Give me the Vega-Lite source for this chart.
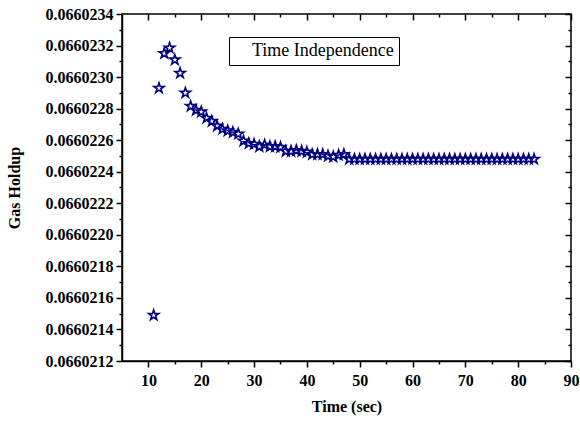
{
  "$schema": "https://vega.github.io/schema/vega-lite/v6.json",
  "autosize": "none",
  "width": 449,
  "height": 347,
  "padding": {"left": 122, "top": 14, "right": 9, "bottom": 60},
  "background": "white",
  "config": {
    "font": "Liberation Serif",
    "view": {"stroke": "black", "strokeWidth": 1.5},
    "axis": {"grid": false}
  },
  "data": {"values": [
    {"t": 11, "g": 0.06602149},
    {"t": 12, "g": 0.06602293},
    {"t": 13, "g": 0.06602315},
    {"t": 14, "g": 0.066023185},
    {"t": 15, "g": 0.06602311},
    {"t": 16, "g": 0.066023025},
    {"t": 17, "g": 0.0660229},
    {"t": 18, "g": 0.066022815},
    {"t": 19, "g": 0.06602279},
    {"t": 20, "g": 0.06602278},
    {"t": 21, "g": 0.06602274},
    {"t": 22, "g": 0.06602272},
    {"t": 23, "g": 0.06602269},
    {"t": 24, "g": 0.06602267},
    {"t": 25, "g": 0.06602266},
    {"t": 26, "g": 0.06602265},
    {"t": 27, "g": 0.06602264},
    {"t": 28, "g": 0.066022595},
    {"t": 29, "g": 0.06602258},
    {"t": 30, "g": 0.066022575},
    {"t": 31, "g": 0.06602256},
    {"t": 32, "g": 0.06602257},
    {"t": 33, "g": 0.06602256},
    {"t": 34, "g": 0.06602256},
    {"t": 35, "g": 0.066022555},
    {"t": 36, "g": 0.06602253},
    {"t": 37, "g": 0.06602253},
    {"t": 38, "g": 0.066022535},
    {"t": 39, "g": 0.06602253},
    {"t": 40, "g": 0.066022525},
    {"t": 41, "g": 0.06602251},
    {"t": 42, "g": 0.06602251},
    {"t": 43, "g": 0.06602251},
    {"t": 44, "g": 0.0660225},
    {"t": 45, "g": 0.066022495},
    {"t": 46, "g": 0.066022505},
    {"t": 47, "g": 0.06602251},
    {"t": 48, "g": 0.06602248},
    {"t": 49, "g": 0.06602248},
    {"t": 50, "g": 0.06602248},
    {"t": 51, "g": 0.06602248},
    {"t": 52, "g": 0.06602248},
    {"t": 53, "g": 0.06602248},
    {"t": 54, "g": 0.06602248},
    {"t": 55, "g": 0.06602248},
    {"t": 56, "g": 0.06602248},
    {"t": 57, "g": 0.06602248},
    {"t": 58, "g": 0.06602248},
    {"t": 59, "g": 0.06602248},
    {"t": 60, "g": 0.06602248},
    {"t": 61, "g": 0.06602248},
    {"t": 62, "g": 0.06602248},
    {"t": 63, "g": 0.06602248},
    {"t": 64, "g": 0.06602248},
    {"t": 65, "g": 0.06602248},
    {"t": 66, "g": 0.06602248},
    {"t": 67, "g": 0.06602248},
    {"t": 68, "g": 0.06602248},
    {"t": 69, "g": 0.06602248},
    {"t": 70, "g": 0.06602248},
    {"t": 71, "g": 0.06602248},
    {"t": 72, "g": 0.06602248},
    {"t": 73, "g": 0.06602248},
    {"t": 74, "g": 0.06602248},
    {"t": 75, "g": 0.06602248},
    {"t": 76, "g": 0.06602248},
    {"t": 77, "g": 0.06602248},
    {"t": 78, "g": 0.06602248},
    {"t": 79, "g": 0.06602248},
    {"t": 80, "g": 0.06602248},
    {"t": 81, "g": 0.06602248},
    {"t": 82, "g": 0.06602248},
    {"t": 83, "g": 0.06602248}
  ]},
  "resolve": {"axis": {"x": "independent", "y": "independent"}},
  "layer": [
    {
      "mark": {"type": "point", "shape": "M0,-1L0.2245,-0.309L0.951,-0.309L0.363,0.118L0.588,0.809L0,0.382L-0.588,0.809L-0.363,0.118L-0.951,-0.309L-0.2245,-0.309Z", "filled": false, "size": 115, "strokeWidth": 1.6, "opacity": 1},
      "encoding": {
        "x": {"field": "t", "type": "quantitative",
          "scale": {"domain": [5, 90], "nice": false, "zero": false},
          "axis": {"orient": "bottom", "title": "Time (sec)",
            "domain": true, "domainColor": "black", "domainWidth": 1.5,
            "ticks": true, "tickSize": 6, "tickColor": "black", "tickWidth": 1.5, "tickOpacity": 1,
            "labelFont": "Liberation Serif", "labelFontWeight": "bold", "labelFontSize": 16, "labelColor": "black",
            "titleFont": "Liberation Serif", "titleFontWeight": "bold", "titleFontSize": 16, "titleColor": "black",
            "values": [10, 20, 30, 40, 50, 60, 70, 80, 90],
            "labelPadding": 5, "titlePadding": 10, "labelFlush": false}},
        "y": {"field": "g", "type": "quantitative",
          "scale": {"domain": [0.0660212, 0.0660234], "nice": false, "zero": false},
          "axis": {"orient": "left", "title": "Gas Holdup", "format": ".7f",
            "domain": true, "domainColor": "black", "domainWidth": 1.5,
            "ticks": true, "tickSize": 6, "tickColor": "black", "tickWidth": 1.5, "tickOpacity": 1,
            "labelFont": "Liberation Serif", "labelFontWeight": "bold", "labelFontSize": 16, "labelColor": "black",
            "titleFont": "Liberation Serif", "titleFontWeight": "bold", "titleFontSize": 16, "titleColor": "black",
            "values": [0.0660212, 0.0660214, 0.0660216, 0.0660218, 0.066022, 0.0660222, 0.0660224, 0.0660226, 0.0660228, 0.066023, 0.0660232, 0.0660234],
            "labelPadding": 3, "titlePadding": 23, "labelFlush": false}},
        "stroke": {"datum": "Time Independence", "type": "nominal",
          "scale": {"range": ["#000080"]},
          "legend": {"orient": "none", "legendX": 107, "legendY": 23, "title": null,
            "strokeColor": "black", "padding": 5, "symbolSize": 1, "symbolOpacity": 0,
            "labelOffset": 0, "labelFont": "Liberation Serif", "labelFontSize": 18,
            "labelColor": "black", "labelFontWeight": "normal"}}
      }
    },
    {
      "mark": {"type": "point", "opacity": 0},
      "encoding": {
        "x": {"field": "t", "type": "quantitative",
          "axis": {"orient": "bottom", "title": null, "labels": false, "domain": false,
            "ticks": true, "tickSize": 3, "tickColor": "black", "tickWidth": 1.5, "tickOpacity": 1,
            "values": [15, 25, 35, 45, 55, 65, 75, 85]}},
        "y": {"field": "g", "type": "quantitative",
          "axis": {"orient": "left", "title": null, "labels": false, "domain": false,
            "ticks": true, "tickSize": 3, "tickColor": "black", "tickWidth": 1.5, "tickOpacity": 1,
            "values": [0.0660213, 0.0660215, 0.0660217, 0.0660219, 0.0660221, 0.0660223, 0.0660225, 0.0660227, 0.0660229, 0.0660231, 0.0660233]}}
      }
    },
    {
      "mark": {"type": "point", "opacity": 0},
      "encoding": {
        "x": {"field": "t", "type": "quantitative",
          "axis": {"orient": "top", "title": null, "labels": false, "domain": false, "offset": -6,
            "ticks": true, "tickSize": 6, "tickColor": "black", "tickWidth": 1.5, "tickOpacity": 1,
            "values": [10, 20, 30, 40, 50, 60, 70, 80, 90]}},
        "y": {"field": "g", "type": "quantitative",
          "axis": {"orient": "right", "title": null, "labels": false, "domain": false, "offset": -6,
            "ticks": true, "tickSize": 6, "tickColor": "black", "tickWidth": 1.5, "tickOpacity": 1,
            "values": [0.0660212, 0.0660214, 0.0660216, 0.0660218, 0.066022, 0.0660222, 0.0660224, 0.0660226, 0.0660228, 0.066023, 0.0660232, 0.0660234]}}
      }
    },
    {
      "mark": {"type": "point", "opacity": 0},
      "encoding": {
        "x": {"field": "t", "type": "quantitative",
          "axis": {"orient": "top", "title": null, "labels": false, "domain": false, "offset": -3,
            "ticks": true, "tickSize": 3, "tickColor": "black", "tickWidth": 1.5, "tickOpacity": 1,
            "values": [15, 25, 35, 45, 55, 65, 75, 85]}},
        "y": {"field": "g", "type": "quantitative",
          "axis": {"orient": "right", "title": null, "labels": false, "domain": false, "offset": -3,
            "ticks": true, "tickSize": 3, "tickColor": "black", "tickWidth": 1.5, "tickOpacity": 1,
            "values": [0.0660213, 0.0660215, 0.0660217, 0.0660219, 0.0660221, 0.0660223, 0.0660225, 0.0660227, 0.0660229, 0.0660231, 0.0660233]}}
      }
    }
  ]
}
